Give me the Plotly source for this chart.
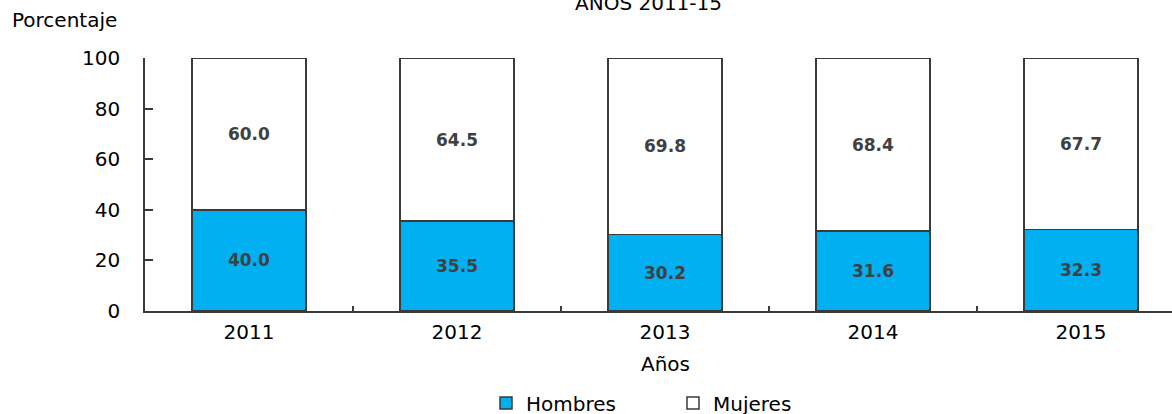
import plotly.graph_objects as go

years = ["2011", "2012", "2013", "2014", "2015"]
hombres = [40.0, 35.5, 30.2, 31.6, 32.3]
mujeres = [60.0, 64.5, 69.8, 68.4, 67.7]
y_ticks = [0, 20, 40, 60, 80, 100]

FONT = "DejaVu Sans"
LINE = "#3a3a3a"
W, H = 1172, 414
L, R, T, B = 145, 0, 58, 103
PW = W - L - R
PH = H - T - B


def px_x(px):
    return (px - L) / PW


def px_y(py):
    return (H - B - py) / PH


fig = go.Figure()
fig.add_bar(
    x=years, y=hombres, name="Hombres", width=0.548,
    marker=dict(color="#00B0F0", line=dict(color=LINE, width=1.5)),
    text=[f"{v:.1f}" for v in hombres], textposition="inside",
    insidetextanchor="middle", textangle=0,
    textfont=dict(family=FONT, size=17, color="#404040", weight="bold"),
)
fig.add_bar(
    x=years, y=mujeres, name="Mujeres", width=0.548,
    marker=dict(color="#FFFFFF", line=dict(color=LINE, width=1.5)),
    text=[f"{v:.1f}" for v in mujeres], textposition="inside",
    insidetextanchor="middle", textangle=0,
    textfont=dict(family=FONT, size=17, color="#404040", weight="bold"),
)

fig.update_layout(
    barmode="stack",
    width=W, height=H,
    margin=dict(l=L, r=R, t=T, b=B, pad=0, autoexpand=False),
    plot_bgcolor="white", paper_bgcolor="white",
    font=dict(family=FONT, size=20, color="#000000"),
    showlegend=True,
    legend=dict(
        orientation="h", x=px_x(486), y=px_y(403), xanchor="left", yanchor="middle",
        font=dict(family=FONT, size=20, color="#000000"),
        entrywidth=142, entrywidthmode="pixels", traceorder="normal",
    ),
    uniformtext=dict(mode=False),
)
fig.update_xaxes(
    type="category", range=[-0.5, -0.5 + PW / 208.0],
    showline=True, linecolor=LINE, linewidth=1.5,
    ticks="inside", tickson="boundaries", ticklen=5, tickcolor=LINE, tickwidth=1.5,
    tickfont=dict(family=FONT, size=20, color="#000000"),
    showgrid=False, zeroline=False, ticklabelstandoff=2,
)
fig.update_yaxes(
    range=[0, 100], tickvals=y_ticks,
    showline=True, linecolor=LINE, linewidth=1.5,
    ticks="inside", ticklen=8, tickcolor=LINE, tickwidth=1.5,
    tickfont=dict(family=FONT, size=20, color="#000000"),
    showgrid=False, zeroline=False, ticklabelstandoff=19,
)

fig.add_annotation(text="AÑOS 2011-15", xref="paper", yref="paper",
                   x=px_x(648), y=px_y(17), xanchor="center", yanchor="bottom",
                   showarrow=False, font=dict(family=FONT, size=20, color="#000000"))
fig.add_annotation(text="Porcentaje", xref="paper", yref="paper",
                   x=px_x(10), y=px_y(20), xanchor="left", yanchor="middle",
                   showarrow=False, font=dict(family=FONT, size=20, color="#000000"))
fig.add_annotation(text="Años", xref="x", yref="paper",
                   x=2, y=px_y(364), xanchor="center", yanchor="middle",
                   showarrow=False, font=dict(family=FONT, size=20, color="#000000"))

fig.write_html("out.html", config={"displayModeBar": False},
               post_script="document.body.style.margin='0';document.body.style.overflow='hidden';")
